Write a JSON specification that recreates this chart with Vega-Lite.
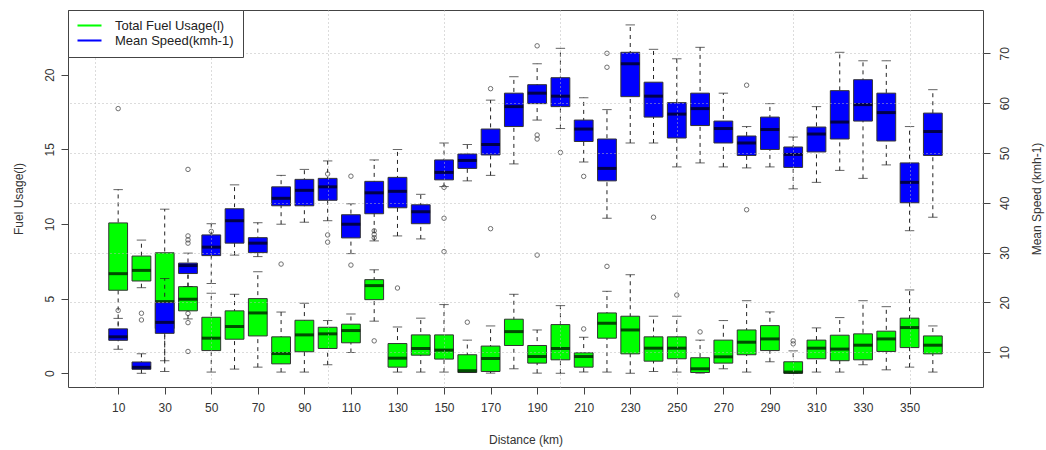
{
"$schema": "https://vega.github.io/schema/vega-lite/v6.json",
"width": 915, "height": 377,
"autosize": {"type": "none"},
"padding": {"left": 68, "top": 10, "right": 63, "bottom": 63},
"background": "white",
"datasets": {
"fuel": [
{"d":10,"lo":2.6,"q1":5.56,"med":6.67,"q3":10.07,"hi":12.3,"series":"Total Fuel Usage(l)"},
{"d":20,"lo":5.73,"q1":6.18,"med":6.89,"q3":7.85,"hi":8.92,"series":"Total Fuel Usage(l)"},
{"d":30,"lo":0.12,"q1":3.0,"med":4.8,"q3":8.07,"hi":10.99,"series":"Total Fuel Usage(l)"},
{"d":40,"lo":3.64,"q1":4.18,"med":4.96,"q3":5.8,"hi":6.8,"series":"Total Fuel Usage(l)"},
{"d":50,"lo":0.08,"q1":1.52,"med":2.35,"q3":3.75,"hi":5.36,"series":"Total Fuel Usage(l)"},
{"d":60,"lo":0.28,"q1":2.28,"med":3.13,"q3":4.18,"hi":5.29,"series":"Total Fuel Usage(l)"},
{"d":70,"lo":0.41,"q1":2.5,"med":4.04,"q3":5.0,"hi":6.8,"series":"Total Fuel Usage(l)"},
{"d":80,"lo":0.08,"q1":0.63,"med":1.32,"q3":2.44,"hi":4.1,"series":"Total Fuel Usage(l)"},
{"d":90,"lo":0.08,"q1":1.44,"med":2.57,"q3":3.55,"hi":4.69,"series":"Total Fuel Usage(l)"},
{"d":100,"lo":0.57,"q1":1.66,"med":2.64,"q3":3.08,"hi":3.53,"series":"Total Fuel Usage(l)"},
{"d":110,"lo":1.39,"q1":2.04,"med":2.86,"q3":3.29,"hi":3.97,"series":"Total Fuel Usage(l)"},
{"d":120,"lo":3.49,"q1":4.93,"med":5.87,"q3":6.27,"hi":6.93,"series":"Total Fuel Usage(l)"},
{"d":130,"lo":0.08,"q1":0.41,"med":1.01,"q3":1.99,"hi":3.1,"series":"Total Fuel Usage(l)"},
{"d":140,"lo":0.08,"q1":1.21,"med":1.66,"q3":2.57,"hi":3.69,"series":"Total Fuel Usage(l)"},
{"d":150,"lo":0.08,"q1":0.95,"med":1.55,"q3":2.57,"hi":4.6,"series":"Total Fuel Usage(l)"},
{"d":160,"lo":0.05,"q1":0.05,"med":0.17,"q3":1.24,"hi":2.22,"series":"Total Fuel Usage(l)"},
{"d":170,"lo":0.01,"q1":0.12,"med":0.99,"q3":1.82,"hi":3.17,"series":"Total Fuel Usage(l)"},
{"d":180,"lo":0.3,"q1":1.86,"med":2.79,"q3":3.62,"hi":5.29,"series":"Total Fuel Usage(l)"},
{"d":190,"lo":0.01,"q1":0.68,"med":1.12,"q3":1.86,"hi":2.9,"series":"Total Fuel Usage(l)"},
{"d":200,"lo":0.0,"q1":0.9,"med":1.66,"q3":3.26,"hi":4.53,"series":"Total Fuel Usage(l)"},
{"d":210,"lo":0.08,"q1":0.41,"med":1.12,"q3":1.37,"hi":2.42,"series":"Total Fuel Usage(l)"},
{"d":220,"lo":0.08,"q1":2.35,"med":3.35,"q3":4.04,"hi":5.49,"series":"Total Fuel Usage(l)"},
{"d":230,"lo":0.0,"q1":1.3,"med":2.9,"q3":3.82,"hi":6.6,"series":"Total Fuel Usage(l)"},
{"d":240,"lo":0.12,"q1":0.81,"med":1.68,"q3":2.44,"hi":3.82,"series":"Total Fuel Usage(l)"},
{"d":250,"lo":0.08,"q1":0.97,"med":1.68,"q3":2.44,"hi":3.82,"series":"Total Fuel Usage(l)"},
{"d":260,"lo":0.01,"q1":0.05,"med":0.3,"q3":1.04,"hi":2.22,"series":"Total Fuel Usage(l)"},
{"d":270,"lo":0.3,"q1":0.68,"med":1.1,"q3":2.22,"hi":3.53,"series":"Total Fuel Usage(l)"},
{"d":280,"lo":0.08,"q1":1.24,"med":2.08,"q3":2.9,"hi":4.86,"series":"Total Fuel Usage(l)"},
{"d":290,"lo":0.77,"q1":1.52,"med":2.3,"q3":3.19,"hi":4.11,"series":"Total Fuel Usage(l)"},
{"d":300,"lo":0.0,"q1":0.0,"med":0.08,"q3":0.77,"hi":1.5,"series":"Total Fuel Usage(l)"},
{"d":310,"lo":0.08,"q1":0.97,"med":1.68,"q3":2.22,"hi":3.04,"series":"Total Fuel Usage(l)"},
{"d":320,"lo":0.08,"q1":0.84,"med":1.62,"q3":2.55,"hi":3.73,"series":"Total Fuel Usage(l)"},
{"d":330,"lo":0.57,"q1":0.9,"med":1.88,"q3":2.64,"hi":4.86,"series":"Total Fuel Usage(l)"},
{"d":340,"lo":0.23,"q1":1.46,"med":2.3,"q3":2.82,"hi":4.46,"series":"Total Fuel Usage(l)"},
{"d":350,"lo":0.41,"q1":1.72,"med":3.06,"q3":3.69,"hi":5.58,"series":"Total Fuel Usage(l)"},
{"d":360,"lo":0.08,"q1":1.3,"med":1.88,"q3":2.5,"hi":3.17,"series":"Total Fuel Usage(l)"}
],
"speed": [
{"d":10,"lo":10.6,"q1":12.4,"med":13.1,"q3":14.7,"hi":16.8,"series":"Mean Speed(kmh-1)"},
{"d":20,"lo":5.78,"q1":6.58,"med":6.98,"q3":8.05,"hi":9.7,"series":"Mean Speed(kmh-1)"},
{"d":30,"lo":8.3,"q1":13.8,"med":16.0,"q3":19.96,"hi":24.8,"series":"Mean Speed(kmh-1)"},
{"d":40,"lo":23.2,"q1":25.8,"med":27.4,"q3":27.9,"hi":29.9,"series":"Mean Speed(kmh-1)"},
{"d":50,"lo":23.8,"q1":29.4,"med":31.1,"q3":33.55,"hi":35.8,"series":"Mean Speed(kmh-1)"},
{"d":60,"lo":29.5,"q1":31.9,"med":36.4,"q3":38.8,"hi":43.6,"series":"Mean Speed(kmh-1)"},
{"d":70,"lo":29.2,"q1":30.0,"med":31.9,"q3":33.0,"hi":36.0,"series":"Mean Speed(kmh-1)"},
{"d":80,"lo":35.7,"q1":39.4,"med":40.9,"q3":43.2,"hi":45.5,"series":"Mean Speed(kmh-1)"},
{"d":90,"lo":36.1,"q1":39.4,"med":42.5,"q3":44.7,"hi":46.7,"series":"Mean Speed(kmh-1)"},
{"d":100,"lo":36.4,"q1":40.5,"med":43.2,"q3":44.9,"hi":48.4,"series":"Mean Speed(kmh-1)"},
{"d":110,"lo":29.8,"q1":32.95,"med":35.7,"q3":37.6,"hi":39.8,"series":"Mean Speed(kmh-1)"},
{"d":120,"lo":32.35,"q1":37.8,"med":42.0,"q3":44.3,"hi":48.6,"series":"Mean Speed(kmh-1)"},
{"d":130,"lo":33.35,"q1":39.0,"med":42.3,"q3":45.1,"hi":50.7,"series":"Mean Speed(kmh-1)"},
{"d":140,"lo":32.75,"q1":35.8,"med":38.2,"q3":39.6,"hi":41.7,"series":"Mean Speed(kmh-1)"},
{"d":150,"lo":43.25,"q1":44.6,"med":46.1,"q3":48.6,"hi":52.0,"series":"Mean Speed(kmh-1)"},
{"d":160,"lo":44.4,"q1":46.9,"med":48.5,"q3":49.8,"hi":51.7,"series":"Mean Speed(kmh-1)"},
{"d":170,"lo":45.5,"q1":49.6,"med":51.7,"q3":54.8,"hi":60.6,"series":"Mean Speed(kmh-1)"},
{"d":180,"lo":47.8,"q1":55.3,"med":59.3,"q3":62.0,"hi":65.3,"series":"Mean Speed(kmh-1)"},
{"d":190,"lo":56.6,"q1":59.9,"med":62.0,"q3":63.7,"hi":67.9,"series":"Mean Speed(kmh-1)"},
{"d":200,"lo":54.9,"q1":59.3,"med":61.4,"q3":65.1,"hi":71.0,"series":"Mean Speed(kmh-1)"},
{"d":210,"lo":48.2,"q1":52.3,"med":54.8,"q3":56.6,"hi":61.1,"series":"Mean Speed(kmh-1)"},
{"d":220,"lo":36.9,"q1":44.4,"med":46.9,"q3":52.8,"hi":58.7,"series":"Mean Speed(kmh-1)"},
{"d":230,"lo":52.0,"q1":61.3,"med":67.9,"q3":70.2,"hi":75.7,"series":"Mean Speed(kmh-1)"},
{"d":240,"lo":52.0,"q1":57.2,"med":61.4,"q3":64.2,"hi":70.8,"series":"Mean Speed(kmh-1)"},
{"d":250,"lo":47.2,"q1":53.0,"med":57.8,"q3":60.1,"hi":68.9,"series":"Mean Speed(kmh-1)"},
{"d":260,"lo":48.0,"q1":55.5,"med":58.9,"q3":62.0,"hi":71.2,"series":"Mean Speed(kmh-1)"},
{"d":270,"lo":47.2,"q1":52.0,"med":54.9,"q3":56.4,"hi":62.0,"series":"Mean Speed(kmh-1)"},
{"d":280,"lo":47.0,"q1":49.5,"med":52.0,"q3":53.4,"hi":55.3,"series":"Mean Speed(kmh-1)"},
{"d":290,"lo":47.2,"q1":50.7,"med":54.7,"q3":57.2,"hi":59.9,"series":"Mean Speed(kmh-1)"},
{"d":300,"lo":42.8,"q1":47.1,"med":49.7,"q3":51.2,"hi":53.2,"series":"Mean Speed(kmh-1)"},
{"d":310,"lo":44.1,"q1":50.2,"med":53.8,"q3":55.2,"hi":59.3,"series":"Mean Speed(kmh-1)"},
{"d":320,"lo":46.5,"q1":52.8,"med":56.2,"q3":62.5,"hi":70.2,"series":"Mean Speed(kmh-1)"},
{"d":330,"lo":44.9,"q1":56.4,"med":59.7,"q3":64.7,"hi":68.5,"series":"Mean Speed(kmh-1)"},
{"d":340,"lo":47.6,"q1":52.4,"med":58.1,"q3":62.0,"hi":68.5,"series":"Mean Speed(kmh-1)"},
{"d":350,"lo":34.4,"q1":40.0,"med":44.1,"q3":48.0,"hi":55.3,"series":"Mean Speed(kmh-1)"},
{"d":360,"lo":37.1,"q1":49.5,"med":54.3,"q3":58.0,"hi":62.7,"series":"Mean Speed(kmh-1)"}
],
"fuelOut": [
{"d":20,"v":4.02},{"d":20,"v":3.57},{"d":40,"v":3.39},{"d":40,"v":1.46},{"d":50,"v":9.5},
{"d":100,"v":13.35},{"d":110,"v":13.2},{"d":120,"v":9.54},{"d":120,"v":9.3},{"d":120,"v":9.08},{"d":120,"v":2.17},
{"d":130,"v":5.71},{"d":160,"v":3.42},{"d":210,"v":2.97},{"d":220,"v":7.16},{"d":250,"v":5.24},{"d":260,"v":2.77},
{"d":300,"v":2.17},{"d":300,"v":1.97}
],
"speedOut": [
{"d":10,"v":58.9},{"d":10,"v":18.4},{"d":40,"v":46.7},{"d":40,"v":33.35},{"d":40,"v":32.55},{"d":40,"v":31.9},{"d":40,"v":17.8},
{"d":80,"v":27.7},{"d":100,"v":33.55},{"d":100,"v":32.1},{"d":110,"v":27.5},{"d":150,"v":43.1},{"d":150,"v":36.9},{"d":150,"v":30.2},
{"d":170,"v":62.9},{"d":170,"v":34.8},{"d":190,"v":71.5},{"d":190,"v":53.6},{"d":190,"v":52.8},{"d":190,"v":29.5},
{"d":200,"v":50.1},{"d":210,"v":45.3},{"d":220,"v":70.0},{"d":220,"v":67.2},{"d":240,"v":37.1},{"d":280,"v":63.6},{"d":280,"v":38.6}
]
},
"layer": [
{
"layer": [
{"data": {"name": "fuel"}, "mark": {"type": "rule", "strokeDash": [4, 4], "color": "#222", "strokeWidth": 1},
 "encoding": {
  "x": {"field": "d", "type": "quantitative", "title": "Distance (km)",
   "scale": {"domain": [-9.4, 379.4], "nice": false, "zero": false},
   "axis": {"orient": "bottom", "values": [10,20,30,40,50,60,70,80,90,100,110,120,130,140,150,160,170,180,190,200,210,220,230,240,250,260,270,280,290,300,310,320,330,340,350,360],
    "labelExpr": "(datum.value / 10) % 2 == 1 ? '' + datum.value : ''",
    "grid": false, "labelPadding": 8, "titlePadding": 21, "labelOverlap": false, "labelFlush": false}},
  "y": {"field": "lo", "type": "quantitative", "title": "Fuel Usage(l)",
   "scale": {"domain": [-0.92, 24.33], "nice": false, "zero": false},
   "axis": {"orient": "left", "values": [0, 5, 10, 15, 20], "labelAngle": 270, "labelPadding": 5, "titlePadding": 18, "grid": false}},
  "y2": {"field": "hi"}}},
{"data": {"name": "fuel"}, "mark": {"type": "tick", "orient": "horizontal", "size": 9.4, "thickness": 1, "color": "#222"},
 "encoding": {"x": {"field": "d", "type": "quantitative", "title": "Distance (km)"}, "y": {"field": "lo", "type": "quantitative", "title": "Fuel Usage(l)"}}},
{"data": {"name": "fuel"}, "mark": {"type": "tick", "orient": "horizontal", "size": 9.4, "thickness": 1, "color": "#222"},
 "encoding": {"x": {"field": "d", "type": "quantitative", "title": "Distance (km)"}, "y": {"field": "hi", "type": "quantitative", "title": "Fuel Usage(l)"}}},
{"data": {"name": "fuel"}, "mark": {"type": "bar", "orient": "vertical", "size": 18.8, "stroke": "#333", "strokeWidth": 1, "fillOpacity": 1},
 "encoding": {"x": {"field": "d", "type": "quantitative", "title": "Distance (km)"},
  "y": {"field": "q1", "type": "quantitative", "title": "Fuel Usage(l)"}, "y2": {"field": "q3"},
  "color": {"field": "series", "type": "nominal",
   "scale": {"domain": ["Total Fuel Usage(l)", "Mean Speed(kmh-1)"], "range": ["#00ff00", "#0000ff"]},
   "legend": {"orient": "top-left", "offset": 0, "title": null, "symbolType": "M-1,-0.17H3V0.17H-1Z", "symbolSize": 144, "symbolStrokeWidth": 0,
    "labelFont": "Liberation Sans", "labelFontSize": 13, "labelColor": "#222", "labelOffset": 25, "padding": 9, "rowPadding": 1,
    "strokeColor": "#444", "fillColor": "white", "zindex": 2}}}},
{"data": {"name": "fuel"}, "mark": {"type": "tick", "orient": "horizontal", "size": 18.8, "thickness": 3, "color": "#000"},
 "encoding": {"x": {"field": "d", "type": "quantitative", "title": "Distance (km)"}, "y": {"field": "med", "type": "quantitative", "title": "Fuel Usage(l)"}}},
{"data": {"name": "fuelOut"}, "mark": {"type": "point", "shape": "circle", "filled": false, "size": 20, "color": "#333", "strokeWidth": 1},
 "encoding": {"x": {"field": "d", "type": "quantitative", "title": "Distance (km)"}, "y": {"field": "v", "type": "quantitative", "title": "Fuel Usage(l)"}}}
]
},
{
"layer": [
{"data": {"name": "speed"}, "mark": {"type": "rule", "strokeDash": [4, 4], "color": "#222", "strokeWidth": 1},
 "encoding": {
  "x": {"field": "d", "type": "quantitative", "title": "Distance (km)",
   "axis": {"orient": "top", "values": [0, 50, 100, 150, 200, 250, 300, 350], "grid": true, "gridDash": [1, 3], "gridColor": "#b8b8b8", "gridWidth": 1,
    "labels": false, "ticks": false, "domain": false, "title": null, "zindex": 1}},
  "y": {"field": "lo", "type": "quantitative", "title": "Mean Speed (kmh-1)",
   "scale": {"domain": [3.03, 78.69], "nice": false, "zero": false},
   "axis": {"orient": "right", "values": [10, 20, 30, 40, 50, 60, 70], "labelAngle": 270, "labelPadding": 9, "titleAngle": 270, "titlePadding": 33,
    "grid": true, "gridDash": [1, 3], "gridColor": "#b8b8b8", "gridWidth": 1, "zindex": 1}},
  "y2": {"field": "hi"}}},
{"data": {"name": "speed"}, "mark": {"type": "tick", "orient": "horizontal", "size": 9.4, "thickness": 1, "color": "#222"},
 "encoding": {"x": {"field": "d", "type": "quantitative"}, "y": {"field": "lo", "type": "quantitative", "title": "Mean Speed (kmh-1)"}}},
{"data": {"name": "speed"}, "mark": {"type": "tick", "orient": "horizontal", "size": 9.4, "thickness": 1, "color": "#222"},
 "encoding": {"x": {"field": "d", "type": "quantitative"}, "y": {"field": "hi", "type": "quantitative", "title": "Mean Speed (kmh-1)"}}},
{"data": {"name": "speed"}, "mark": {"type": "bar", "orient": "vertical", "size": 18.8, "stroke": "#333", "strokeWidth": 1, "fillOpacity": 1},
 "encoding": {"x": {"field": "d", "type": "quantitative"},
  "y": {"field": "q1", "type": "quantitative", "title": "Mean Speed (kmh-1)"}, "y2": {"field": "q3"},
  "color": {"field": "series", "type": "nominal"}}},
{"data": {"name": "speed"}, "mark": {"type": "tick", "orient": "horizontal", "size": 18.8, "thickness": 3, "color": "#000"},
 "encoding": {"x": {"field": "d", "type": "quantitative"}, "y": {"field": "med", "type": "quantitative", "title": "Mean Speed (kmh-1)"}}},
{"data": {"name": "speedOut"}, "mark": {"type": "point", "shape": "circle", "filled": false, "size": 20, "color": "#333", "strokeWidth": 1},
 "encoding": {"x": {"field": "d", "type": "quantitative"}, "y": {"field": "v", "type": "quantitative", "title": "Mean Speed (kmh-1)"}}}
]
}
],
"resolve": {"scale": {"y": "independent"}, "axis": {"y": "independent"}},
"config": {
 "font": "Liberation Sans",
 "view": {"stroke": "#444", "strokeWidth": 1},
 "axis": {"labelFont": "Liberation Sans", "labelFontSize": 12, "labelColor": "#333", "titleFont": "Liberation Sans", "titleFontSize": 12, "titleFontWeight": "normal", "titleColor": "#333", "tickColor": "#444", "tickSize": 7, "domain": false, "grid": false}
}
}
